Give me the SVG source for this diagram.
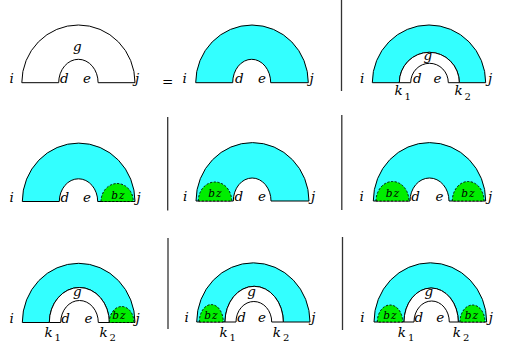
<svg xmlns="http://www.w3.org/2000/svg" width="519" height="349" viewBox="0 0 519 349">
<style>
.ring{fill:#3ff;stroke:#000;stroke-width:1}
.blank{fill:#fff;stroke:#000;stroke-width:1}
.bz{fill:#0e0;stroke:#000;stroke-width:0.9;stroke-dasharray:2.2 1.6}
.t{font-family:"DejaVu Serif","Liberation Serif",serif;font-style:italic;font-size:13.5px;fill:#000}
.s{font-family:"DejaVu Serif","Liberation Serif",serif;font-size:10px;fill:#000}
.b{font-family:"DejaVu Serif","Liberation Serif",serif;font-style:italic;font-size:10.5px;letter-spacing:1.2px;fill:#000;text-anchor:middle}
.m{font-family:"DejaVu Serif","Liberation Serif",serif;font-size:13.5px;fill:#000}
.sep{stroke:#333;stroke-width:1.3;fill:none}
</style>
<rect width="519" height="349" fill="#fff"/>

<g id="panel1">
<path class="blank" d="M21.8,82.7 A56.6,57.7 0 0 1 135,82.7 L98.1,82.7 A19.7,23.4 0 0 0 58.7,82.7 Z"/>
<text class="t" x="9.5" y="83">i</text>
<text class="t" x="73" y="51">g</text>
<text class="t" x="60" y="83">d</text>
<text class="t" x="83" y="83">e</text>
<text class="t" x="135" y="83">j</text>
</g>

<g id="equals"><text class="m" x="162" y="86">=</text></g>

<g id="panel2">
<path class="ring" d="M195.7,82.7 A56.3,57.7 0 0 1 308.3,82.7 L270.7,82.7 A19,23.4 0 0 0 232.7,82.7 Z"/>
<text class="t" x="182.5" y="83">i</text>
<text class="t" x="235" y="83">d</text>
<text class="t" x="258" y="83">e</text>
<text class="t" x="309.5" y="83">j</text>
</g>

<g id="panel3">
<path class="ring" d="M372.3,82.7 A56.7,57.7 0 0 1 485.7,82.7 L459.3,82.7 A30,30.4 0 0 0 399.3,82.7 Z"/>
<path class="blank" d="M399.3,82.7 A30,30.4 0 0 1 459.3,82.7 L448.3,82.7 A18.8,19.4 0 0 0 410.7,82.7 Z"/>
<text class="t" x="360" y="83">i</text>
<text class="t" x="423.5" y="60">g</text>
<text class="t" x="413" y="83">d</text>
<text class="t" x="433.5" y="83">e</text>
<text class="t" x="488" y="83">j</text>
<text class="t" x="394.5" y="94.5">k</text><text class="s" x="404.5" y="99.5">1</text>
<text class="t" x="454.5" y="94.5">k</text><text class="s" x="464.5" y="99.5">2</text>
</g>

<g id="panel4">
<path class="ring" d="M22.3,201.5 A56.35,58.4 0 0 1 135,201.5 L97.7,201.5 A19.2,22.7 0 0 0 59.3,201.5 Z"/>
<path class="bz" d="M101,201.5 A16.15,18 0 0 1 133.3,201.5 Z"/>
<text class="b" x="118.5" y="199">bz</text>
<text class="t" x="9.5" y="201.5">i</text>
<text class="t" x="60.5" y="201.5">d</text>
<text class="t" x="83" y="201.5">e</text>
<text class="t" x="136.5" y="201.5">j</text>
</g>

<g id="panel5">
<path class="ring" d="M196,201 A56.5,58.4 0 0 1 309,201 L271,201 A18.85,23 0 0 0 233.3,201 Z"/>
<path class="bz" d="M198.3,201 A16.7,19 0 0 1 231.7,201 Z"/>
<text class="b" x="215.5" y="197">bz</text>
<text class="t" x="183" y="201">i</text>
<text class="t" x="234.5" y="201">d</text>
<text class="t" x="258" y="201">e</text>
<text class="t" x="311" y="201">j</text>
</g>

<g id="panel6">
<path class="ring" d="M373.3,201 A56.2,58.4 0 0 1 485.7,201 L449,201 A19.5,23 0 0 0 410,201 Z"/>
<path class="bz" d="M376,201 A16.5,19.5 0 0 1 409,201 Z"/>
<path class="bz" d="M452.3,201 A15.85,19.5 0 0 1 484,201 Z"/>
<text class="b" x="393" y="197">bz</text>
<text class="b" x="468.5" y="197">bz</text>
<text class="t" x="359.5" y="201">i</text>
<text class="t" x="411.2" y="201">d</text>
<text class="t" x="435.5" y="201">e</text>
<text class="t" x="488" y="201">j</text>
</g>

<g id="panel7">
<path class="ring" d="M22.3,322.5 A56.35,59.2 0 0 1 135,322.5 L109.3,322.5 A30,35 0 0 0 49.3,322.5 Z"/>
<path class="blank" d="M49.3,322.5 A30,35 0 0 1 109.3,322.5 L98.3,322.5 A18.8,22 0 0 0 60.7,322.5 Z"/>
<path class="bz" d="M109.3,322.5 A12.35,16 0 0 1 134,322.5 Z"/>
<text class="b" x="119.5" y="319">bz</text>
<text class="t" x="9.5" y="322.5">i</text>
<text class="t" x="73" y="296">g</text>
<text class="t" x="61.2" y="322.5">d</text>
<text class="t" x="84.5" y="322.5">e</text>
<text class="t" x="135.5" y="322.5">j</text>
<text class="t" x="44.5" y="336.5">k</text><text class="s" x="54.5" y="341">1</text>
<text class="t" x="99.5" y="336.5">k</text><text class="s" x="109.5" y="341">2</text>
</g>

<g id="panel8">
<path class="ring" d="M196.7,322 A56.65,59.2 0 0 1 310,322 L283.3,322 A29.15,35.7 0 0 0 225,322 Z"/>
<path class="blank" d="M225,322 A29.15,35.7 0 0 1 283.3,322 L271.7,322 A17.85,20.5 0 0 0 236,322 Z"/>
<path class="bz" d="M199.3,322 A12,17.4 0 0 1 223.3,322 Z"/>
<text class="b" x="211.5" y="319">bz</text>
<text class="t" x="184.5" y="322">i</text>
<text class="t" x="247.2" y="296">g</text>
<text class="t" x="237.2" y="322">d</text>
<text class="t" x="258" y="322">e</text>
<text class="t" x="311.2" y="322">j</text>
<text class="t" x="219.5" y="336.5">k</text><text class="s" x="229.5" y="341">1</text>
<text class="t" x="272.8" y="336.5">k</text><text class="s" x="283" y="341">2</text>
</g>

<g id="panel9">
<path class="ring" d="M374,322 A56.35,59.2 0 0 1 486.7,322 L458.3,322 A27.15,34 0 0 0 404,322 Z"/>
<path class="blank" d="M404,322 A27.15,34 0 0 1 458.3,322 L449.3,322 A17.65,21 0 0 0 414,322 Z"/>
<path class="bz" d="M377.3,322 A12.7,17 0 0 1 402.7,322 Z"/>
<path class="bz" d="M460,322 A12.5,17 0 0 1 485,322 Z"/>
<text class="b" x="390.5" y="319">bz</text>
<text class="b" x="472" y="319">bz</text>
<text class="t" x="360.2" y="322">i</text>
<text class="t" x="424.5" y="296">g</text>
<text class="t" x="414.5" y="322">d</text>
<text class="t" x="436.2" y="322">e</text>
<text class="t" x="488.8" y="322">j</text>
<text class="t" x="397.8" y="336.5">k</text><text class="s" x="408" y="341">1</text>
<text class="t" x="452.8" y="336.5">k</text><text class="s" x="463" y="341">2</text>
</g>

<g id="connectors">
<line class="sep" x1="341.5" y1="0" x2="341.5" y2="91"/>
<line class="sep" x1="167.7" y1="117" x2="167.7" y2="210.5"/>
<line class="sep" x1="341.8" y1="115" x2="341.8" y2="210"/>
<line class="sep" x1="168" y1="238" x2="168" y2="329"/>
<line class="sep" x1="342.5" y1="237" x2="342.5" y2="330"/>
</g>
</svg>
